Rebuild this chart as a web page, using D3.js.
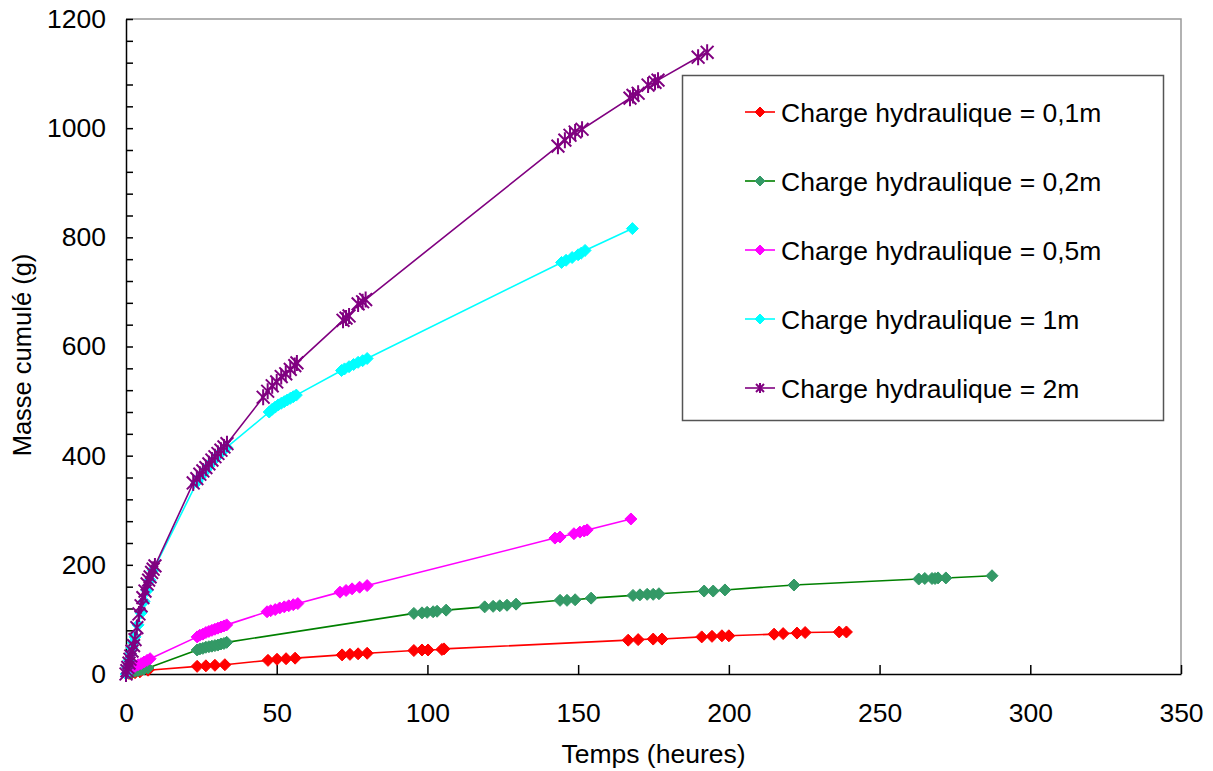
<!DOCTYPE html>
<html>
<head>
<meta charset="utf-8">
<script src="https://cdn.jsdelivr.net/npm/d3@7"></script>
<style>
    body { margin: 0; background: #fff; }
    text { font-family: "Liberation Sans", Arial, sans-serif; fill: #000; }
</style>
</head>
<body>
<div id="chart"></div>
<script>
// data: time (heures) and cumulated mass (g) per series
var h01_temps = [0, 1, 2, 3, 4.6, 7.3, 23.6, 26.5, 29.5, 32.8, 47.1, 50.1, 53.1, 56.1, 71.7, 74.3, 77, 80,
    95.5, 98.2, 100.2, 104.8, 105.5, 166.6, 169.9, 174.9, 177.8, 191, 194.4, 197.7, 200,
    215, 218, 222.6, 225.3, 236.6, 239];
var h01_masse = [0, 1, 2, 2.5, 4, 7, 14, 15, 16, 17, 25, 27, 28, 29, 35, 36, 37, 38,
    43, 44, 44, 45, 46, 62, 63, 64, 64, 68, 69, 70, 70,
    73, 74, 75, 76, 77, 77];

var h02_temps = [0, 1, 2, 3, 4, 5, 6, 7.3, 23.6, 24.5, 25.5, 26.5, 27.5, 28.5, 29.5, 30.5, 31.5, 32.5, 33.4,
    95.5, 98.2, 99.9, 101.9, 103.2, 106.2, 119, 121.8, 124, 126.4, 129.4, 144, 146.3, 149, 154.3,
    168.2, 170.5, 172.9, 174.9, 176.8, 191.8, 194.8, 198.7, 221.6, 263, 265, 267.4, 268.4, 269.4, 272, 287.3];
var h02_masse = [0, 2, 3, 5, 6, 8, 9, 11, 44, 46, 47, 49, 50, 51, 52, 53, 55, 56, 58,
    111, 112, 113, 114, 115, 117, 123, 124, 125, 126, 128, 135, 135, 136, 139,
    144, 145, 146, 146, 147, 152, 152, 154, 163, 174, 175, 175, 175, 176, 176, 180];

var h05_temps = [0, 0.5, 1, 1.5, 2, 3, 4, 5, 6, 7, 8, 23.6, 24.5, 25.5, 26.5, 27.5, 28.5, 29.5, 30.5, 31.5, 32.5, 33.4,
    46.8, 48, 49.5, 51, 52.5, 54, 55.5, 57, 71, 73, 75, 77.5, 80,
    142.3, 144, 148.6, 150.6, 152, 153, 167.5];
var h05_masse = [0, 3, 6, 9, 11, 14, 17, 19, 22, 25, 28, 68, 71, 73, 76, 78, 80, 82, 84, 86, 88, 90,
    114, 116, 118, 121, 123, 125, 127, 129, 150, 153, 156, 159, 162,
    249, 251, 257, 260, 262, 264, 284];

var h1_temps = [0, 0.5, 1, 1.5, 2, 2.5, 3, 4, 5, 6, 7, 8, 9, 23.6, 24.5, 25.5, 26.5, 27.5, 28.5, 29.5, 30.5, 31.5, 32.5, 33.4,
    47.5, 48.5, 49.5, 50.5, 51.5, 52.5, 53.5, 54.5, 55.5, 56.5, 71.5, 72.5, 74, 75.5, 77, 78.5, 80,
    144.5, 146, 148, 150, 151, 152.3, 168];
var h1_masse = [0, 12, 25, 37, 48, 58, 68, 90, 112, 133, 153, 172, 190, 352, 360, 367, 374, 381, 388, 394, 400, 406, 411, 415,
    480, 485, 489, 493, 496, 499, 502, 505, 508, 511, 556, 559, 563, 567, 571, 574, 578,
    754, 758, 763, 768, 771, 776, 816];

var h2_temps = [0, 0.3, 0.6, 1, 1.3, 1.6, 2, 2.5, 3, 3.6, 4.3, 5, 5.6, 6.3, 7, 7.5, 8, 8.5, 9, 9.6,
    22.3, 23.5, 24.5, 25.5, 26.5, 27.5, 28.5, 29.5, 30.5, 31.5, 32.5, 33.5,
    45.5, 47, 48.5, 50, 51.5, 53, 54.5, 56, 56.7, 72, 73, 74, 77, 78.5, 79.5,
    143.3, 145.6, 147.3, 149, 151.3, 167.2, 168.2, 169.9, 173.2, 175.5, 176.5, 189.8, 192.8];
var h2_masse = [0, 6, 12, 20, 27, 33, 42, 52, 63, 85, 110, 125, 140, 152, 165, 172, 178, 186, 192, 198,
    350, 358, 366, 372, 378, 385, 392, 398, 404, 410, 416, 422,
    507, 518, 528, 535, 545, 550, 558, 565, 570, 648, 652, 656, 678, 682, 686,
    967, 978, 987, 993, 998, 1055, 1060, 1064, 1079, 1084, 1088, 1130, 1139];

var series_names = ["Charge hydraulique = 0,1m", "Charge hydraulique = 0,2m", "Charge hydraulique = 0,5m",
    "Charge hydraulique = 1m", "Charge hydraulique = 2m"];
var x_ticks = [0, 50, 100, 150, 200, 250, 300, 350];
var y_ticks = [0, 200, 400, 600, 800, 1000, 1200];

var width = 1213;
var height = 771;

var series = [
    { name: series_names[0], t: h01_temps, m: h01_masse, line: "#ff0000", fill: "#ff0000", marker: "diamond" },
    { name: series_names[1], t: h02_temps, m: h02_masse, line: "#008000", fill: "#339966", marker: "diamond" },
    { name: series_names[2], t: h05_temps, m: h05_masse, line: "#ff00ff", fill: "#ff00ff", marker: "diamond" },
    { name: series_names[3], t: h1_temps, m: h1_masse, line: "#00ffff", fill: "#00ffff", marker: "diamond" },
    { name: series_names[4], t: h2_temps, m: h2_masse, line: "#800080", fill: "#800080", marker: "star" }
];

var svg = d3.select("#chart")
    .append("svg")
    .attr("width", width)
    .attr("height", height);

svg.append("rect").attr("width", width).attr("height", height).attr("fill", "#fff");

var x = d3.scaleLinear().domain([0, 350]).range([126, 1181]);
var y = d3.scaleLinear().domain([0, 1200]).range([674, 19]);

// plot area border (top and right)
svg.append("path")
    .attr("d", "M" + x(0) + "," + y(1200) + "H" + x(350) + "V" + y(0))
    .attr("fill", "none")
    .attr("stroke", "#999")
    .attr("stroke-width", 1.5);

// axes, ticks inside
var xAxis = svg.append("g")
    .attr("transform", "translate(0," + y(0) + ")")
    .call(d3.axisBottom(x).tickValues(x_ticks).tickSizeInner(-9).tickSizeOuter(0).tickPadding(29));

var yAxis = svg.append("g")
    .attr("transform", "translate(" + x(0) + ",0)")
    .call(d3.axisLeft(y)
        .tickValues(d3.range(0, 1201, 40))
        .tickFormat(function(d) { return y_ticks.indexOf(d) >= 0 ? d : ""; })
        .tickSizeInner(-7).tickSizeOuter(0).tickPadding(20));

[xAxis, yAxis].forEach(function(a) {
    a.selectAll("text").attr("font-size", 26.5).attr("font-family", "Liberation Sans, Arial, sans-serif");
    a.selectAll("line").attr("stroke", "#000").attr("stroke-width", 1.5);
    a.select(".domain").attr("stroke", "#000").attr("stroke-width", 1.5);
});

// axis titles
svg.append("text")
    .attr("x", (x(0) + x(350)) / 2)
    .attr("y", 763)
    .attr("text-anchor", "middle")
    .attr("font-size", 26.5)
    .text("Temps (heures)");

svg.append("text")
    .attr("transform", "translate(31," + 355 + ") rotate(-90)")
    .attr("text-anchor", "middle")
    .attr("font-size", 25.5)
    .text("Masse cumulé (g)");

function drawMarker(g, type, cx, cy, s, color) {
    if (type === "diamond") {
        g.append("path")
            .attr("d", "M" + cx + "," + (cy - s) + "L" + (cx + s) + "," + cy + "L" + cx + "," + (cy + s) + "L" + (cx - s) + "," + cy + "Z")
            .attr("fill", color)
            .attr("stroke", color)
            .attr("stroke-width", 1);
    }
    else {
        var d = s * 0.8;
        g.append("path")
            .attr("d", "M" + (cx - d) + "," + (cy - d) + "L" + (cx + d) + "," + (cy + d) +
                "M" + (cx - d) + "," + (cy + d) + "L" + (cx + d) + "," + (cy - d) +
                "M" + cx + "," + (cy - s) + "L" + cx + "," + (cy + s))
            .attr("fill", "none")
            .attr("stroke", color)
            .attr("stroke-width", 2);
    }
}

var line = d3.line()
    .x(function(d) { return x(d[0]); })
    .y(function(d) { return y(d[1]); });

series.forEach(function(s) {
    var pts = s.t.map(function(t, i) { return [t, s.m[i]]; });
    var g = svg.append("g");
    g.append("path")
        .datum(pts)
        .attr("d", line)
        .attr("fill", "none")
        .attr("stroke", s.line)
        .attr("stroke-width", 1.6);
    pts.forEach(function(p) {
        drawMarker(g, s.marker, x(p[0]), y(p[1]), s.marker === "star" ? 8 : 6, s.fill);
    });
});

// legend
var legend = svg.append("g");
legend.append("rect")
    .attr("x", 682.5)
    .attr("y", 75.5)
    .attr("width", 481)
    .attr("height", 345)
    .attr("fill", "#fff")
    .attr("stroke", "#555")
    .attr("stroke-width", 1.5);

series.forEach(function(s, i) {
    var ly = 112 + i * 69;
    legend.append("line")
        .attr("x1", 745).attr("x2", 775)
        .attr("y1", ly).attr("y2", ly)
        .attr("stroke", s.line)
        .attr("stroke-width", 1.6);
    drawMarker(legend, s.marker, 760, ly, 5, s.fill);
    legend.append("text")
        .attr("x", 781)
        .attr("y", ly)
        .attr("dy", "0.36em")
        .attr("font-size", 26.5)
        .text(s.name);
});
</script>
</body>
</html>
